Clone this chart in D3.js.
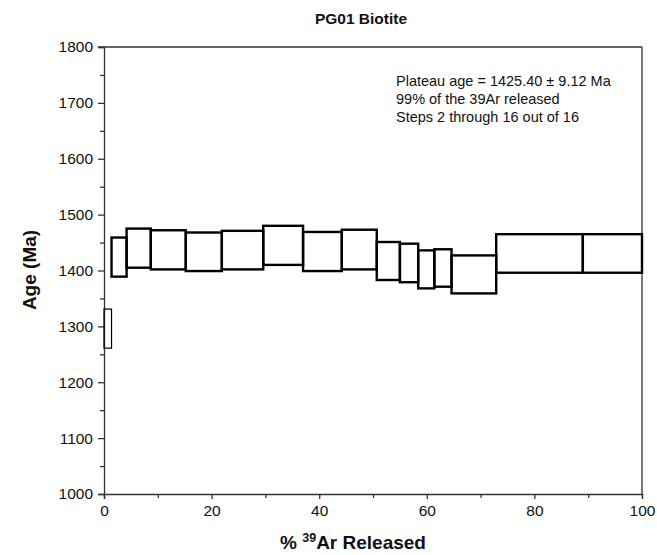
<!DOCTYPE html>
<html>
<head>
<meta charset="utf-8">
<script src="https://cdn.jsdelivr.net/npm/d3@7"></script>
<style>
  html, body { margin: 0; padding: 0; background: #fff; }
  svg { display: block; font-family: "Liberation Sans", Arial, sans-serif; }
</style>
</head>
<body>
<div id="chart"></div>
<script>
// ---- data ----
const cumulativeEdges = [0, 1.4, 4.2, 8.7, 15.2, 21.9, 29.6, 37.0, 44.2, 50.7, 55.0, 58.4, 61.4, 64.6, 72.9, 89.0, 100];
const ageHigh = [1331, 1459, 1475, 1472, 1468, 1471, 1480, 1469, 1473, 1451, 1448, 1436, 1438, 1427, 1465, 1465];
const ageLow  = [1261, 1389, 1405, 1402, 1399, 1402, 1410, 1399, 1402, 1383, 1379, 1368, 1371, 1359, 1396, 1396];
const plateauSteps = [2, 16];
const yTicks = [1000, 1100, 1200, 1300, 1400, 1500, 1600, 1700, 1800];
const yMinorTicks = [1050, 1150, 1250, 1350, 1450, 1550, 1650, 1750];
const xTicks = [0, 20, 40, 60, 80, 100];
const xMinorTicks = [10, 30, 50, 70, 90];
const titleText = "PG01 Biotite";
const annotationLines = ["Plateau age = 1425.40 \u00B1 9.12 Ma", "99% of the 39Ar released", "Steps 2 through 16 out of 16"];

const W = 657, H = 555;
const margin = { left: 104, right: 15, top: 47, bottom: 61 };

const steps = ageHigh.map((h, i) => ({
  step: i + 1, x0: cumulativeEdges[i], x1: cumulativeEdges[i + 1], hi: h, lo: ageLow[i]
}));

const svg = d3.select("#chart").append("svg").attr("width", W).attr("height", H);

const x = d3.scaleLinear().domain([0, 100]).range([margin.left, W - margin.right]);
const y = d3.scaleLinear().domain([1000, 1800]).range([H - margin.bottom, margin.top]);

const axisColor = "#333";

// frame top & right
svg.append("line").attr("x1", x(0) - 6).attr("x2", x(100)).attr("y1", y(1800)).attr("y2", y(1800))
  .attr("stroke", axisColor).attr("stroke-width", 1.3);
svg.append("line").attr("x1", x(100)).attr("x2", x(100)).attr("y1", y(1800)).attr("y2", y(1000))
  .attr("stroke", axisColor).attr("stroke-width", 1.3);

// y axis
const gy = svg.append("g").attr("transform", `translate(${x(0)},0)`)
  .call(d3.axisLeft(y).tickValues(yTicks).tickSize(6).tickPadding(5).tickFormat(d3.format("d")));
gy.select(".domain").attr("stroke", axisColor).attr("stroke-width", 1.3);
gy.selectAll(".tick line").attr("stroke", axisColor).attr("stroke-width", 1.3);
gy.selectAll(".tick text").attr("font-size", 15.5).attr("fill", "#111")
  .attr("font-family", "Liberation Sans, Arial, sans-serif");
const gyMinor = svg.append("g").attr("transform", `translate(${x(0)},0)`)
  .call(d3.axisLeft(y).tickValues(yMinorTicks).tickSize(4).tickFormat(""));
gyMinor.select(".domain").remove();
gyMinor.selectAll(".tick line").attr("stroke", axisColor).attr("stroke-width", 1.3);

// x axis
const gx = svg.append("g").attr("transform", `translate(0,${y(1000)})`)
  .call(d3.axisBottom(x).tickValues(xTicks).tickSize(5).tickPadding(6).tickFormat(d3.format("d")));
gx.select(".domain").attr("stroke", axisColor).attr("stroke-width", 1.3);
gx.selectAll(".tick line").attr("stroke", axisColor).attr("stroke-width", 1.3);
gx.selectAll(".tick text").attr("font-size", 15.5).attr("fill", "#111")
  .attr("font-family", "Liberation Sans, Arial, sans-serif");
const gxMinor = svg.append("g").attr("transform", `translate(0,${y(1000)})`)
  .call(d3.axisBottom(x).tickValues(xMinorTicks).tickSize(4).tickFormat(""));
gxMinor.select(".domain").remove();
gxMinor.selectAll(".tick line").attr("stroke", axisColor).attr("stroke-width", 1.3);

// step boxes
svg.append("g").selectAll("rect").data(steps).join("rect")
  .attr("x", d => x(d.x0))
  .attr("y", d => y(d.hi))
  .attr("width", d => x(d.x1) - x(d.x0))
  .attr("height", d => y(d.lo) - y(d.hi))
  .attr("fill", "none")
  .attr("stroke", "#000")
  .attr("stroke-width", d => (d.step >= plateauSteps[0] && d.step <= plateauSteps[1]) ? 2.4 : 1.2);

// title
svg.append("text").attr("x", 361).attr("y", 24).attr("text-anchor", "middle")
  .attr("font-size", 15.5).attr("font-weight", "bold").attr("fill", "#111").text(titleText);

// axis labels
svg.append("text").attr("transform", `translate(36,270) rotate(-90)`).attr("text-anchor", "middle")
  .attr("font-size", 19).attr("font-weight", "bold").attr("fill", "#111").text("Age (Ma)");

const xl = svg.append("text").attr("x", 353).attr("y", 549).attr("text-anchor", "middle")
  .attr("font-size", 19).attr("font-weight", "bold").attr("fill", "#111");
xl.append("tspan").text("% ");
xl.append("tspan").attr("font-size", 12.5).attr("dy", -7).text("39");
xl.append("tspan").attr("dy", 7).text("Ar Released");

// annotation
svg.append("g").selectAll("text").data(annotationLines).join("text")
  .attr("x", 396).attr("y", (d, i) => 86 + i * 18)
  .attr("font-size", 14.5).attr("fill", "#111").text(d => d);
</script>
</body>
</html>
